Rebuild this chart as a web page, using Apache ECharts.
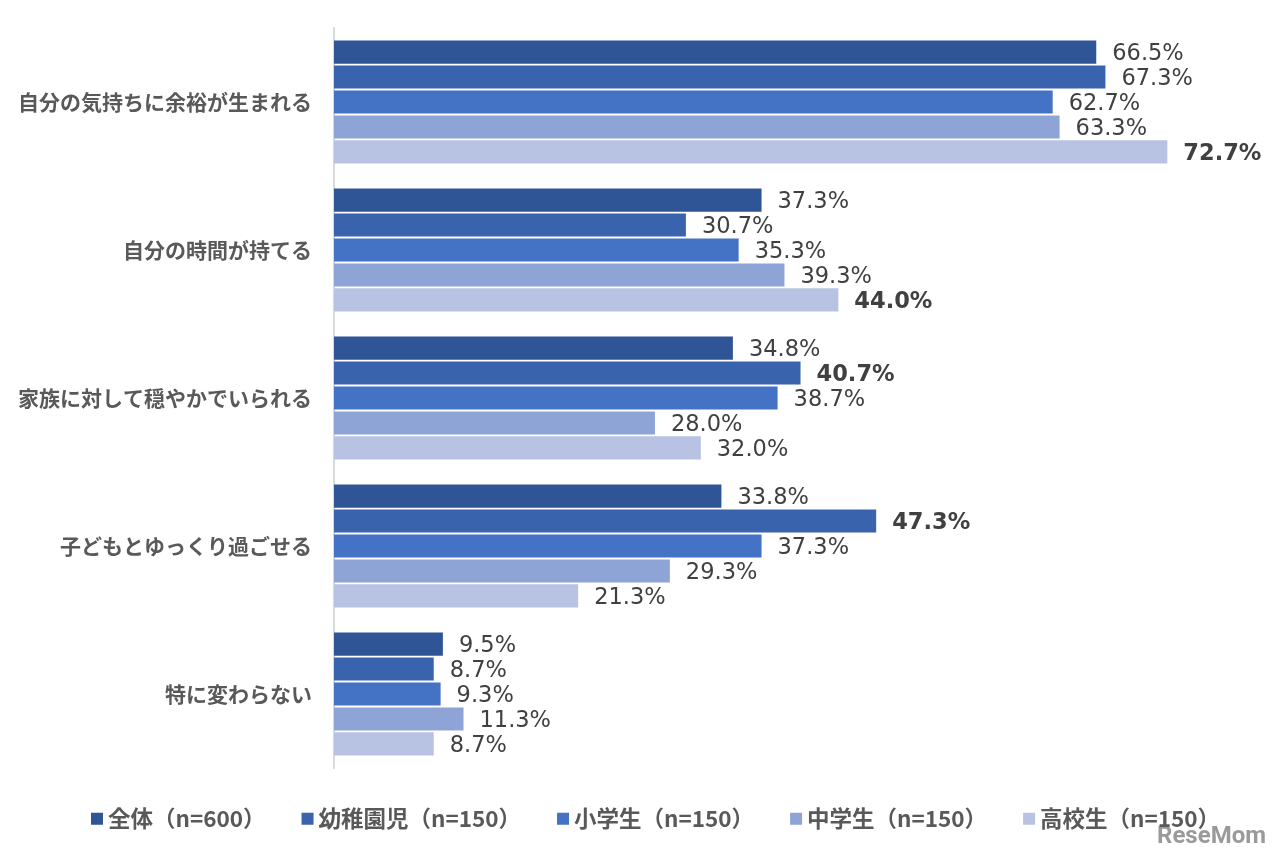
<!DOCTYPE html>
<html><head><meta charset="utf-8">
<script src="https://cdn.jsdelivr.net/npm/echarts@6/dist/echarts.min.js"></script>
<style>html,body{margin:0;padding:0;background:#fff}#c{width:1280px;height:855px}</style>
</head><body><div id="c"></div>
<script>
const categories = ['自分の気持ちに余裕が生まれる','自分の時間が持てる','家族に対して穏やかでいられる','子どもとゆっくり過ごせる','特に変わらない'];
const seriesNames = ['全体（n=600）','幼稚園児（n=150）','小学生（n=150）','中学生（n=150）','高校生（n=150）'];
const all = [66.5, 37.3, 34.8, 33.8, 9.5];
const kinder = [67.3, 30.7, 40.7, 47.3, 8.7];
const elem = [62.7, 35.3, 38.7, 37.3, 9.3];
const junior = [63.3, 39.3, 28.0, 29.3, 11.3];
const high = [72.7, 44.0, 32.0, 21.3, 8.7];
const boldHighlights = [[4], [4], [1], [1], []]; // series index in bold per category
const colors = ['#2F5597','#3A63AE','#4472C4','#8FA4D6','#B8C3E3'];
const values = [all, kinder, elem, junior, high];

const chart = echarts.init(document.getElementById('c'));
const series = values.map((vals, si) => ({
  name: seriesNames[si],
  type: 'bar',
  barGap: '8%',
  barCategoryGap: '17%',
  data: vals.map((v, ci) => {
    const bold = boldHighlights[ci].includes(si);
    return { value: v, label: { fontWeight: bold ? 'bold' : 'normal' } };
  }),
  itemStyle: { color: colors[si] },
  label: {
    show: true, position: 'right', distance: 16, offset: [0, 2],
    formatter: p => p.value.toFixed(1) + '%',
    fontFamily: 'DejaVu Sans', fontSize: 22.5, color: '#404040'
  }
}));
chart.setOption({
  animation: false,
  color: colors,
  grid: { left: 334, top: 28, right: 29, bottom: 87, containLabel: false },
  xAxis: { type: 'value', min: 0, max: 80, show: false },
  yAxis: {
    type: 'category', data: categories, inverse: true,
    axisLine: { show: true, lineStyle: { color: '#D9D9D9', width: 2 } },
    axisTick: { show: false },
    axisLabel: { fontFamily: 'Noto Sans CJK JP', fontWeight: 'bold', fontSize: 21, color: '#595959', margin: 22 }
  },
  legend: {
    bottom: 20, left: 86, itemWidth: 12, itemHeight: 12, itemGap: 36,
    icon: 'rect',
    textStyle: { fontFamily: 'Noto Sans CJK JP', fontWeight: 'bold', fontSize: 22.5, color: '#595959' }
  },
  graphic: [{ type: 'text', right: 14, bottom: 6, style: { text: 'ReseMom', fontFamily: 'Roboto', fontWeight: 'bold', fontSize: 24, fill: '#9a9a9a' } }],
  series
});
</script></body></html>
